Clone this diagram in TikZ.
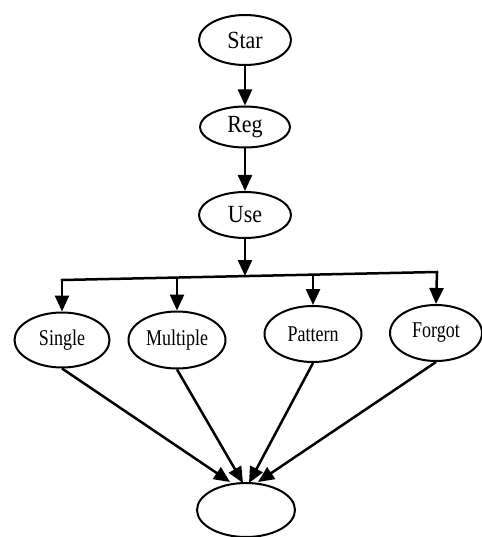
\documentclass[tikz,border=0pt]{standalone}
\usepackage{fontspec}
\usepackage{graphicx}
\setmainfont{Liberation Serif}
\usetikzlibrary{shapes.geometric,arrows.meta}
\newcommand{\tallbig}[1]{\scalebox{1}[1.12]{#1}}
\newcommand{\tallsmall}[1]{\scalebox{1}[1.25]{#1}}
\begin{document}
\begin{tikzpicture}[x=1pt,y=-1pt,
  ell/.style={draw,ellipse,line width=2pt,inner sep=0pt},
  big/.style={ell,font=\fontsize{22}{24}\selectfont},
  small/.style={ell,font=\fontsize{18}{20}\selectfont},
  arr/.style={line width=2.5pt,-{Triangle[length=16pt,width=14pt]}},
  ln/.style={line width=2.5pt}]
\useasboundingbox (0,0) rectangle (481,537);
\node[big,minimum width=92pt,minimum height=50pt] (star) at (245,40) {\tallbig{Star}};
\node[big,minimum width=90pt,minimum height=41pt] (reg) at (245,127) {\tallbig{Reg}};
\node[big,minimum width=92pt,minimum height=46pt] (use) at (245,215) {\tallbig{Use}};
\node[small,minimum width=95pt,minimum height=55pt] (single) at (62,340) {\tallsmall{Single}};
\node[small,minimum width=97pt,minimum height=57pt] (multiple) at (177,340) {\tallsmall{Multiple}};
\node[small,minimum width=97pt,minimum height=56pt] (pattern) at (313,334) {\tallsmall{Pattern}};
\node[small,minimum width=92pt,minimum height=56pt] (forgot) at (436,333) {\tallsmall{Forgot}};
\node[ell,minimum width=98pt,minimum height=54pt] (end) at (246,510) {};
\coordinate (bl) at (62,280);
\coordinate (br) at (437,272);
\coordinate (bm) at (245,276);
\coordinate (b2) at (177,277.5);
\coordinate (b3) at (313,274.6);
\draw[arr] (star.south) -- (reg.north);
\draw[arr] (reg.south) -- (use.north);
\draw[arr] (use.south) -- (bm);
\draw[ln,line cap=rect] (bl) -- (br);
\draw[arr] (bl) -- (single.north);
\draw[arr] (b2) -- (multiple.north);
\draw[arr] (b3) -- (pattern.north);
\draw[arr] (br) -- (forgot.north);
\draw[arr] (single.south) -- ([xshift=-16pt]end.north);
\draw[arr] (multiple.south) -- ([xshift=-3pt,yshift=-1pt]end.north);
\draw[arr] (pattern.south) -- ([xshift=3pt,yshift=-1pt]end.north);
\draw[arr] (forgot.south) -- ([xshift=12pt]end.north);
\end{tikzpicture}
\end{document}
